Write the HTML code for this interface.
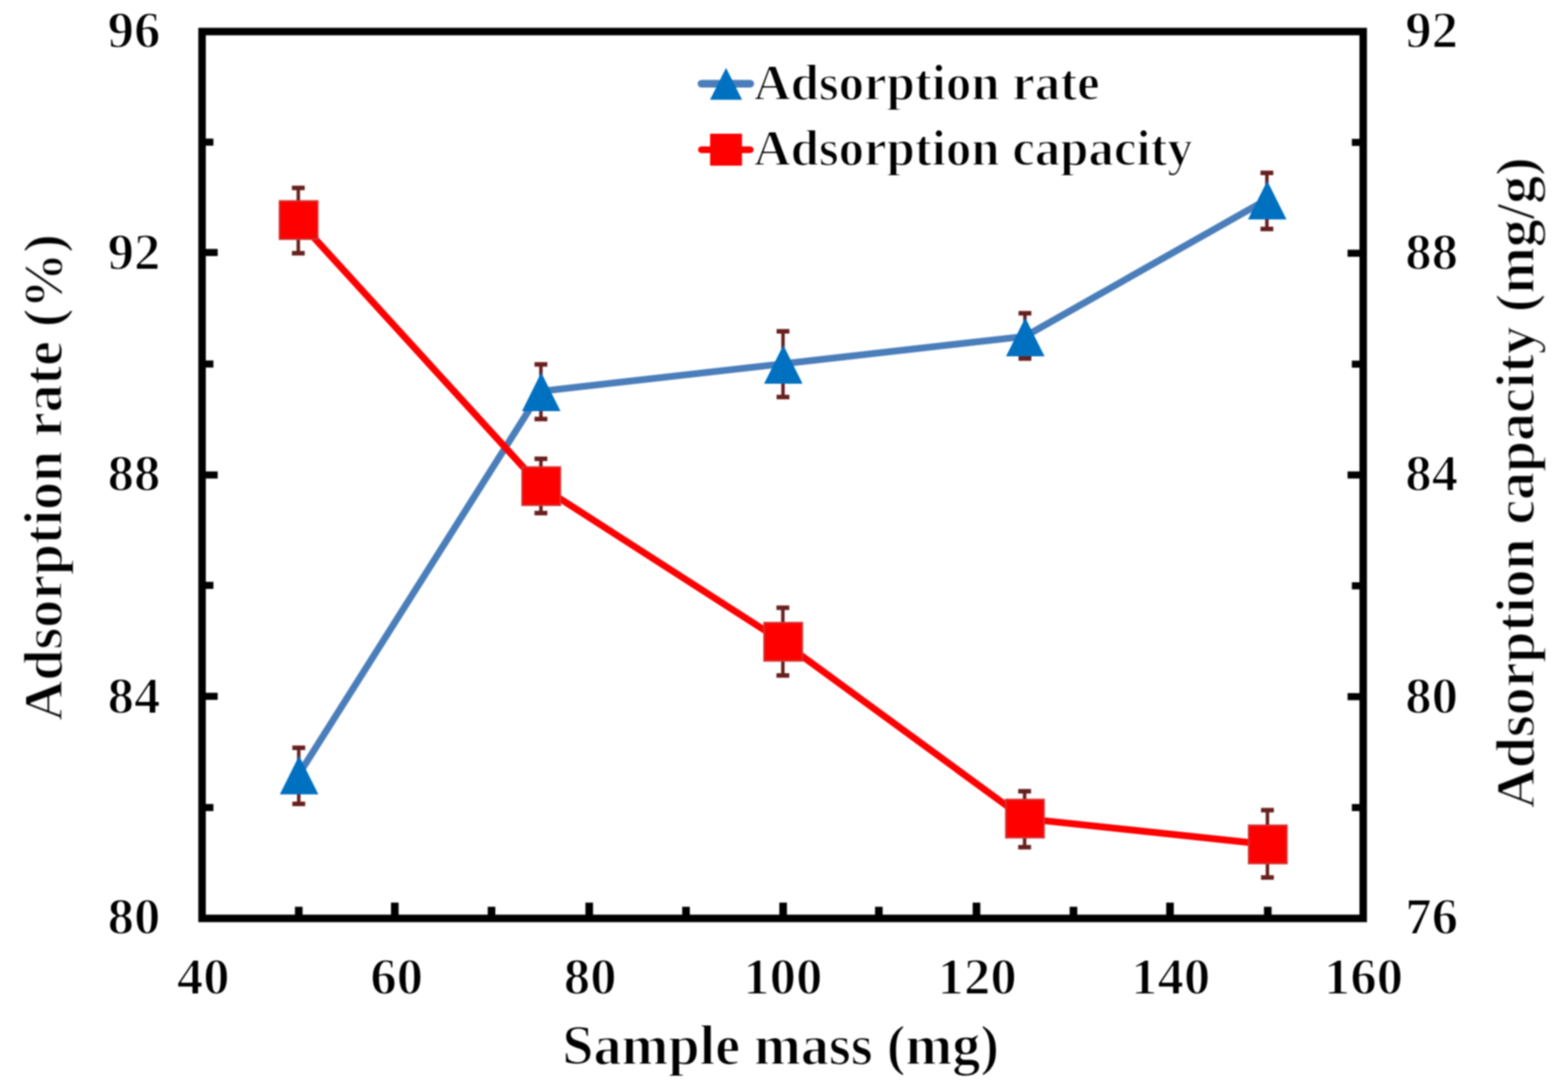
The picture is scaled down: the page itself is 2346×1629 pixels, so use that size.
<!DOCTYPE html>
<html lang="en"><head><meta charset="utf-8"><title>Adsorption rate and capacity vs sample mass</title>
<style>
html,body{margin:0;padding:0;background:#fff;}
body{width:2346px;height:1629px;}
svg{display:block;}
text{font-family:"Liberation Serif","Times New Roman",serif;font-weight:bold;fill:#000;stroke:#fff;stroke-width:2px;stroke-linejoin:round;}
.tick{font-size:79px;}
.title{font-size:83.5px;}
.leg{font-size:76px;}
</style></head><body>
<svg width="2346" height="1629" viewBox="0 0 2346 1629">
<defs><filter id="soft" x="0" y="0" width="2346" height="1629" filterUnits="userSpaceOnUse" color-interpolation-filters="sRGB"><feGaussianBlur stdDeviation="1.2"/></filter></defs>
<rect x="0" y="0" width="2346" height="1629" fill="#fff"/>
<g id="chart" filter="url(#soft)">
<g stroke="#000" stroke-width="11.4" fill="none">
<line x1="447.0" y1="1373.8" x2="447.0" y2="1356.4"/>
<line x1="590.7" y1="1373.8" x2="590.7" y2="1350.2"/>
<line x1="735.4" y1="1373.8" x2="735.4" y2="1356.4"/>
<line x1="881.6" y1="1373.8" x2="881.6" y2="1350.2"/>
<line x1="1026.4" y1="1373.8" x2="1026.4" y2="1356.4"/>
<line x1="1171.7" y1="1373.8" x2="1171.7" y2="1350.2"/>
<line x1="1314.9" y1="1373.8" x2="1314.9" y2="1356.4"/>
<line x1="1461.0" y1="1373.8" x2="1461.0" y2="1350.2"/>
<line x1="1606.1" y1="1373.8" x2="1606.1" y2="1356.4"/>
<line x1="1750.5" y1="1373.8" x2="1750.5" y2="1350.2"/>
<line x1="1896.8" y1="1373.8" x2="1896.8" y2="1356.4"/>
</g>
<g stroke="#000" stroke-width="10.6" fill="none">
<line x1="302.3" y1="1208.0" x2="319.3" y2="1208.0"/>
<line x1="2039.6" y1="1208.0" x2="2022.6" y2="1208.0"/>
<line x1="302.3" y1="1041.6" x2="325.7" y2="1041.6"/>
<line x1="2039.6" y1="1042.1" x2="2016.2" y2="1042.1"/>
<line x1="302.3" y1="875.6" x2="319.3" y2="875.6"/>
<line x1="2039.6" y1="876.3" x2="2022.6" y2="876.3"/>
<line x1="302.3" y1="710.5" x2="325.7" y2="710.5"/>
<line x1="2039.6" y1="710.5" x2="2016.2" y2="710.5"/>
<line x1="302.3" y1="544.5" x2="319.3" y2="544.5"/>
<line x1="2039.6" y1="544.7" x2="2022.6" y2="544.7"/>
<line x1="302.3" y1="377.7" x2="325.7" y2="377.7"/>
<line x1="2039.6" y1="378.8" x2="2016.2" y2="378.8"/>
<line x1="302.3" y1="212.6" x2="319.3" y2="212.6"/>
<line x1="2039.6" y1="213.0" x2="2022.6" y2="213.0"/>
</g>
<rect x="302.3" y="47.2" width="1737.3" height="1326.6" fill="none" stroke="#000" stroke-width="11.2"/>
<polyline points="447.0,1158.5 809.3,585.2 1171.5,544.2 1533.5,503.2 1895.5,298.5" fill="none" stroke="#4a7ebb" stroke-width="10.2" stroke-linejoin="round" stroke-linecap="round"/>
<g stroke="#68201f" fill="none">
<line x1="447.0" y1="1118.6" x2="447.0" y2="1202.5" stroke-width="5.2"/>
<line x1="437.4" y1="1118.6" x2="456.6" y2="1118.6" stroke-width="6.8"/>
<line x1="437.4" y1="1202.5" x2="456.6" y2="1202.5" stroke-width="6.8"/>
<line x1="809.3" y1="545.1" x2="809.3" y2="626.8" stroke-width="5.2"/>
<line x1="799.7" y1="545.1" x2="818.9" y2="545.1" stroke-width="6.8"/>
<line x1="799.7" y1="626.8" x2="818.9" y2="626.8" stroke-width="6.8"/>
<line x1="1171.5" y1="495.6" x2="1171.5" y2="593.9" stroke-width="5.2"/>
<line x1="1161.9" y1="495.6" x2="1181.1" y2="495.6" stroke-width="6.8"/>
<line x1="1161.9" y1="593.9" x2="1181.1" y2="593.9" stroke-width="6.8"/>
<line x1="1533.5" y1="468.6" x2="1533.5" y2="536.3" stroke-width="5.2"/>
<line x1="1523.9" y1="468.6" x2="1543.1" y2="468.6" stroke-width="6.8"/>
<line x1="1523.9" y1="536.3" x2="1543.1" y2="536.3" stroke-width="6.8"/>
<line x1="1895.5" y1="258.6" x2="1895.5" y2="342.5" stroke-width="5.2"/>
<line x1="1885.9" y1="258.6" x2="1905.1" y2="258.6" stroke-width="6.8"/>
<line x1="1885.9" y1="342.5" x2="1905.1" y2="342.5" stroke-width="6.8"/>
</g>
<polygon points="447.5,1130.5 476.3,1188.3 418.7,1188.3" fill="#0070c0"/>
<polygon points="809.8,557.2 838.6,615.0 781.0,615.0" fill="#0070c0"/>
<polygon points="1172.0,516.2 1200.8,574.0 1143.2,574.0" fill="#0070c0"/>
<polygon points="1534.0,475.2 1562.8,533.0 1505.2,533.0" fill="#0070c0"/>
<polygon points="1896.0,270.5 1924.8,328.3 1867.2,328.3" fill="#0070c0"/>
<polyline points="445.8,329.2 808.8,727.2 1170.8,960.0 1532.5,1224.5 1895.8,1263.1" fill="none" stroke="#ff0000" stroke-width="10.2" stroke-linejoin="round" stroke-linecap="round"/>
<g stroke="#68201f" fill="none">
<line x1="446.3" y1="281.1" x2="446.3" y2="378.8" stroke-width="5.2"/>
<line x1="436.7" y1="281.1" x2="455.9" y2="281.1" stroke-width="6.8"/>
<line x1="436.7" y1="378.8" x2="455.9" y2="378.8" stroke-width="6.8"/>
<line x1="809.3" y1="686.3" x2="809.3" y2="767.5" stroke-width="5.2"/>
<line x1="799.7" y1="686.3" x2="818.9" y2="686.3" stroke-width="6.8"/>
<line x1="799.7" y1="767.5" x2="818.9" y2="767.5" stroke-width="6.8"/>
<line x1="1171.3" y1="909.1" x2="1171.3" y2="1010.4" stroke-width="5.2"/>
<line x1="1161.7" y1="909.1" x2="1180.9" y2="909.1" stroke-width="6.8"/>
<line x1="1161.7" y1="1010.4" x2="1180.9" y2="1010.4" stroke-width="6.8"/>
<line x1="1533.0" y1="1183.6" x2="1533.0" y2="1267.3" stroke-width="5.2"/>
<line x1="1523.4" y1="1183.6" x2="1542.6" y2="1183.6" stroke-width="6.8"/>
<line x1="1523.4" y1="1267.3" x2="1542.6" y2="1267.3" stroke-width="6.8"/>
<line x1="1896.3" y1="1211.9" x2="1896.3" y2="1312.6" stroke-width="5.2"/>
<line x1="1886.7" y1="1211.9" x2="1905.9" y2="1211.9" stroke-width="6.8"/>
<line x1="1886.7" y1="1312.6" x2="1905.9" y2="1312.6" stroke-width="6.8"/>
</g>
<rect x="418.2" y="300.6" width="57.2" height="57.2" fill="#ff0000" stroke="#d23636" stroke-width="2.4"/>
<rect x="781.2" y="698.6" width="57.2" height="57.2" fill="#ff0000" stroke="#d23636" stroke-width="2.4"/>
<rect x="1143.2" y="931.4" width="57.2" height="57.2" fill="#ff0000" stroke="#d23636" stroke-width="2.4"/>
<rect x="1504.9" y="1195.9" width="57.2" height="57.2" fill="#ff0000" stroke="#d23636" stroke-width="2.4"/>
<rect x="1868.2" y="1234.5" width="57.2" height="57.2" fill="#ff0000" stroke="#d23636" stroke-width="2.4"/>
<line x1="1049.5" y1="125.2" x2="1122.5" y2="125.2" stroke="#4a7ebb" stroke-width="11.5" stroke-linecap="round"/>
<polygon points="1086.3,101.5 1110.3,149.3 1062.3,149.3" fill="#0070c0"/>
<line x1="1049.5" y1="224" x2="1122.5" y2="224" stroke="#ff0000" stroke-width="10.2" stroke-linecap="round"/>
<rect x="1062.4" y="200" width="47.8" height="47.8" fill="#ff0000"/>
<text class="leg" x="1128" y="148.7">Adsorption rate</text>
<text class="leg" x="1128" y="247">Adsorption capacity</text>
<text class="tick" x="304.1" y="1487.2" text-anchor="middle">40</text>
<text class="tick" x="593.5" y="1487.2" text-anchor="middle">60</text>
<text class="tick" x="882.9" y="1487.2" text-anchor="middle">80</text>
<text class="tick" x="1171.2" y="1487.2" text-anchor="middle">100</text>
<text class="tick" x="1462.0" y="1487.2" text-anchor="middle">120</text>
<text class="tick" x="1751.5" y="1487.2" text-anchor="middle">140</text>
<text class="tick" x="2040.0" y="1487.2" text-anchor="middle">160</text>
<text class="tick" x="200.4" y="1396.9" text-anchor="middle">80</text>
<text class="tick" x="200.4" y="1066.5" text-anchor="middle">84</text>
<text class="tick" x="200.4" y="734.2" text-anchor="middle">88</text>
<text class="tick" x="200.4" y="403.2" text-anchor="middle">92</text>
<text class="tick" x="200.4" y="70.8" text-anchor="middle">96</text>
<text class="tick" x="2142.1" y="1396.9" text-anchor="middle">76</text>
<text class="tick" x="2142.1" y="1066.5" text-anchor="middle">80</text>
<text class="tick" x="2142.1" y="734.2" text-anchor="middle">84</text>
<text class="tick" x="2142.1" y="403.2" text-anchor="middle">88</text>
<text class="tick" x="2142.1" y="70.8" text-anchor="middle">92</text>
<text class="title" style="font-size:84px" x="1168" y="1591.8" text-anchor="middle">Sample mass (mg)</text>
<text class="title" transform="translate(92.1,714.3) rotate(-90)" text-anchor="middle">Adsorption rate (%)</text>
<text class="title" transform="translate(2294.7,722.3) rotate(-90)" text-anchor="middle">Adsorption capacity (mg/g)</text>
</g>
</svg>
</body></html>
